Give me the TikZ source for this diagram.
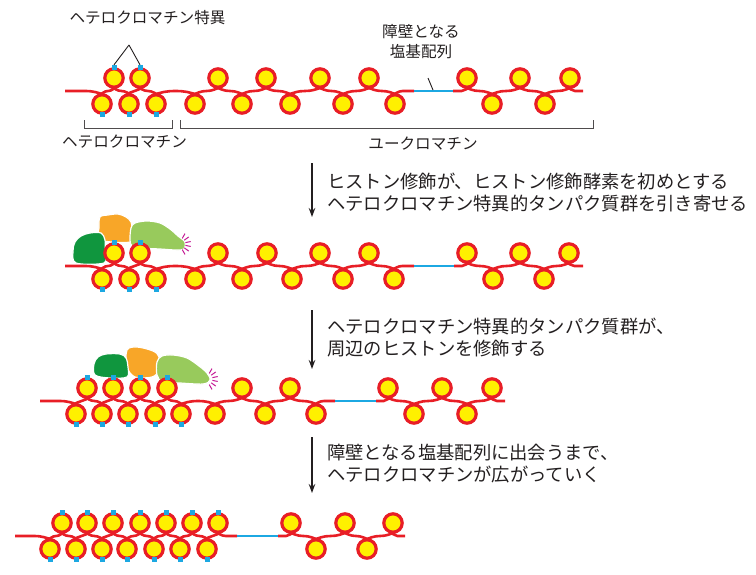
\documentclass[tikz,border=0pt]{standalone}
\usepackage{fontspec}
\newfontfamily\jpfont{Noto Sans CJK JP}
\usetikzlibrary{arrows.meta}

\definecolor{dnared}{RGB}{232,30,38}
\definecolor{nucyellow}{RGB}{255,240,0}
\definecolor{markblue}{RGB}{28,168,226}
\definecolor{hpdark}{RGB}{16,150,62}
\definecolor{hporange}{RGB}{248,166,40}
\definecolor{hplight}{RGB}{152,202,92}
\definecolor{spark}{RGB}{196,28,150}
\definecolor{ink}{RGB}{35,31,32}

% nucleosome geometry: radius, centre offset from the fibre line, mark offset
\newcommand\nucR{9.2pt}
\newcommand\nucH{13}
\newcommand\markoff{10.5}

% per element type: entry x/y offset, entry angle, exit x/y offset, exit angle
\newcommand\dnatype[7]{%
  \expandafter\def\csname dnix-#1\endcsname{#2}%
  \expandafter\def\csname dniy-#1\endcsname{#3}%
  \expandafter\def\csname dnia-#1\endcsname{#4}%
  \expandafter\def\csname dnox-#1\endcsname{#5}%
  \expandafter\def\csname dnoy-#1\endcsname{#6}%
  \expandafter\def\csname dnoa-#1\endcsname{#7}}
\dnatype{U}{3.2}{4.2}{200}{-3.2}{4.2}{-20}
\dnatype{u}{3.2}{4.2}{200}{-3.2}{4.2}{-20}
\dnatype{D}{3.2}{-4.2}{160}{-3.2}{-4.2}{20}
\dnatype{d}{3.2}{-4.2}{160}{-3.2}{-4.2}{20}
\dnatype{S}{0}{0}{180}{0}{0}{0}
\dnatype{P}{0}{0}{180}{0}{0}{0}
\dnatype{Q}{0}{0}{180}{0}{0}{0}
\dnatype{E}{0}{0}{180}{0}{0}{0}

% nucleosomes: #1 row name, #2 x, #3 fibre line y
\newcommand\nucUp[3]{\draw[nuc] (#2,#3+\nucH) circle[radius=\nucR];}
\newcommand\nucDown[3]{\draw[nuc] (#2,#3-\nucH) circle[radius=\nucR];}
\newcommand\nucUpMark[3]{\nucUp{#1}{#2}{#3}\node[bluemark] (#1-#2) at (#2,#3+\nucH+\markoff) {};}
\newcommand\nucDownMark[3]{\nucDown{#1}{#2}{#3}\node[bluemark] (#1-#2) at (#2,#3-\nucH-\markoff) {};}
\newcommand\nucNone[3]{}
\expandafter\let\csname dnc-U\endcsname\nucUp
\expandafter\let\csname dnc-D\endcsname\nucDown
\expandafter\let\csname dnc-u\endcsname\nucUpMark
\expandafter\let\csname dnc-d\endcsname\nucDownMark
\expandafter\let\csname dnc-P\endcsname\nucNone
\expandafter\let\csname dnc-Q\endcsname\nucNone
\expandafter\let\csname dnc-E\endcsname\nucNone

% chromatin fibre: #1 row name, #2 line y, #3 start x, #4 elements
% between two elements the fibre runs level through the midpoint
\newcommand\fibre[4]{%
  \foreach \t/\x [remember=\t as \pt (initially S), remember=\x as \px (initially #3)] in {#4}{%
    \edef\ox{\csname dnox-\pt\endcsname}\edef\oy{\csname dnoy-\pt\endcsname}%
    \edef\oa{\csname dnoa-\pt\endcsname}%
    \edef\ix{\csname dnix-\t\endcsname}\edef\iy{\csname dniy-\t\endcsname}%
    \edef\ia{\csname dnia-\t\endcsname}%
    \pgfmathsetmacro\ax{\px+\ox}\pgfmathsetmacro\ay{#2+\oy}%
    \pgfmathsetmacro\bx{\x+\ix}\pgfmathsetmacro\by{#2+\iy}%
    \pgfmathsetmacro\mx{(\ax+\bx)/2}%
    \draw[seg-\pt] (\ax,\ay) to[out=\oa,in=180] (\mx,#2) to[out=0,in=\ia] (\bx,\by);
  }%
  \foreach \t/\x in {#4}{\csname dnc-\t\endcsname{#1}{\x}{#2}}%
}

\begin{document}
\begin{tikzpicture}[x=1pt,y=1pt,
  dna/.style={draw=dnared, line width=2.6pt},
  seg-S/.style={dna}, seg-U/.style={dna}, seg-u/.style={dna},
  seg-D/.style={dna}, seg-d/.style={dna}, seg-Q/.style={dna},
  seg-P/.style={draw=markblue, line width=2.6pt},
  nuc/.style={draw=dnared, fill=nucyellow, line width=3.2pt},
  bluemark/.style={rectangle, fill=markblue, minimum size=5pt, inner sep=0pt},
  blob/.style={draw=white, line width=1.2pt},
  sparkray/.style={draw=spark, line width=1pt},
  label/.style={text=ink, inner sep=0pt, font=\jpfont\fontsize{15.6pt}{20pt}\selectfont},
  steptext/.style={text=ink, inner sep=0pt, align=left, anchor=west,
    font=\jpfont\fontsize{18.3pt}{22pt}\selectfont},
  steparrow/.style={draw=ink, line width=1.1pt, -{Stealth[length=9pt,width=6.5pt]}},
  pointer/.style={draw=ink, line width=0.9pt},
  bracket/.style={draw=ink!80, line width=1pt}]
\useasboundingbox (0,0) rectangle (756,-574);

% ---------- protein complexes ----------
\filldraw[blob, fill=hporange] plot[smooth cycle, tension=0.55] coordinates
  {(100,-240) (99,-228) (100,-217) (108,-215) (118,-214) (126,-217) (131,-222) (132,-232) (130,-242)};
\filldraw[blob, fill=hpdark] plot[smooth cycle, tension=0.55] coordinates
  {(76,-263) (73,-251) (75,-242) (81,-236) (90,-233) (101,-233) (105,-240) (105,-252) (104,-263)};
\filldraw[blob, fill=hplight] plot[smooth cycle, tension=0.55] coordinates
  {(130,-240) (131,-228) (135,-223) (147,-221) (160,-223) (170,-229) (178,-236) (185,-242)
   (184,-249) (176,-250) (160,-249) (140,-248) (132,-246)};
\foreach \a in {-60,-36,-12,12,36,60}
  \draw[sparkray] (179,-244) ++(\a:6.5) -- ++(\a:5.5);

\filldraw[blob, fill=hporange] plot[smooth cycle, tension=0.55] coordinates
  {(127,-367) (127,-350) (137,-347) (153,-351) (159,-357) (159,-370) (152,-377) (135,-377)};
\filldraw[blob, fill=hpdark] plot[smooth cycle, tension=0.55] coordinates
  {(95,-375) (94,-364) (98,-357) (106,-354) (120,-354) (126,-358) (128,-367) (127,-377) (110,-378)};
\filldraw[blob, fill=hplight] plot[smooth cycle, tension=0.55] coordinates
  {(157,-375) (157,-362) (162,-356) (173,-355) (187,-358) (199,-366) (207,-373) (210,-380)
   (203,-384) (180,-383) (163,-382)};
\foreach \a in {-60,-36,-12,12,36,60}
  \draw[sparkray] (206,-379) ++(\a:6.5) -- ++(\a:5.5);

% ---------- chromatin fibres ----------
\fibre{r1}{-91}{65}{d/102,u/114,d/129,u/140,d/156,D/195,U/218,D/242,U/266,D/290,U/320,D/343,U/369,D/395,P/414,Q/453,U/467,D/492,U/520,D/545,U/570,E/583}
\fibre{r2}{-266}{65}{d/102,u/114,d/129,u/140,d/156,D/195,U/218,D/242,U/267,D/292,U/320,D/343,U/369,D/394,P/414,Q/454,U/467,D/493,U/520,D/544,U/569,E/583}
\fibre{r3}{-401}{40}{d/76,u/87,d/102,u/113,d/128,u/140,d/155,u/167,d/181,D/215,U/242,D/265,U/290,D/316,P/335,Q/376,U/388,D/414,U/442,D/467,U/492,E/505}
\fibre{r4}{-536}{15}{d/50,u/62,d/76,u/87,d/102,u/113,d/127,u/140,d/154,u/166,d/180,u/192,d/207,u/218,P/237,Q/278,U/291,D/316,U/345,D/367,U/393,E/405}

% ---------- labels of the first fibre ----------
\node[label] (hslabel) at (147.5,-18) {ヘテロクロマチン特異};
\coordinate (hsapex) at (129,-45);
\draw[pointer] (hsapex) -- (r1-114.north);
\draw[pointer] (hsapex) -- (r1-140.north);

\node[label, align=center] (barrier) at (421,-42) {障壁となる\\塩基配列};
\coordinate (barrier-a) at (428,-78);
\coordinate (barrier-b) at (433,-90);
\draw[pointer] (barrier-a) -- (barrier-b);

\draw[bracket] (84,-120) -- (84,-128) -- (172,-128) -- (172,-120);
\draw[bracket] (180,-120) -- (180,-128) -- (593,-128) -- (593,-120);
\node[label] (hetero) at (124.5,-142) {ヘテロクロマチン};
\node[label] (eu) at (423,-144) {ユークロマチン};

% ---------- steps ----------
\coordinate (s1a) at (312,-163); \coordinate (s1b) at (312,-217);
\coordinate (s2a) at (312,-310); \coordinate (s2b) at (312,-369);
\coordinate (s3a) at (312,-437); \coordinate (s3b) at (312,-493);
\draw[steparrow] (s1a) -- (s1b);
\draw[steparrow] (s2a) -- (s2b);
\draw[steparrow] (s3a) -- (s3b);

\node[steptext] (step1) at (327,-193)
  {ヒストン修飾が、ヒストン修飾酵素を初めとする\\ヘテロクロマチン特異的タンパク質群を引き寄せる};
\node[steptext] (step2) at (327,-338)
  {ヘテロクロマチン特異的タンパク質群が、\\周辺のヒストンを修飾する};
\node[steptext] (step3) at (327,-464)
  {障壁となる塩基配列に出会うまで、\\ヘテロクロマチンが広がっていく};
\end{tikzpicture}
\end{document}
